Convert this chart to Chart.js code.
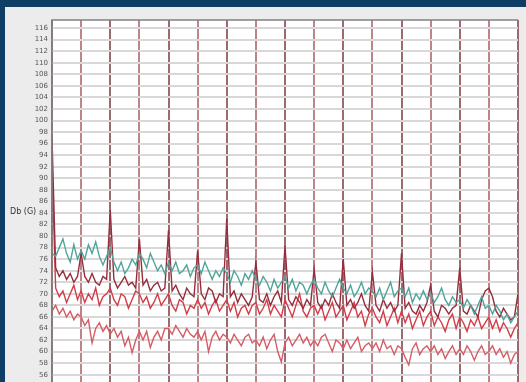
<!DOCTYPE html>
<html>
<head>
  <title>Db (G)</title>
  <script src="https://cdn.jsdelivr.net/npm/chart.js@4.4.0/dist/chart.umd.min.js"></script>
  <style>
    body { margin: 0; background: #0e3d66; overflow: hidden; width: 526px; height: 382px; }
    #panel { position: absolute; left: 5px; top: 7px; width: 521px; height: 380px; background: #ececec; }
    #chart { position: absolute; left: 0; top: 0; }
    #ylabel { position: absolute; left: 10px; top: 207px; font: 8px "DejaVu Sans", sans-serif; color: #333; }
  </style>
</head>
<body>
  <div id="panel"></div>
  <canvas id="chart" width="526" height="406"></canvas>
  <div id="ylabel">Db (G)</div>

  <script>
    // y tick labels
    var yTicks = [56, 58, 60, 62, 64, 66, 68, 70, 72, 74, 76, 78, 80, 82, 84, 86, 88, 90,
                  92, 94, 96, 98, 100, 102, 104, 106, 108, 110, 112, 114, 116];

    // samples: 8 per vertical division, 16 divisions
    var teal = [77,
      76.5, 78, 79.5, 77, 75.5, 78.5, 76, 77.5,
      76, 78.5, 77, 79, 76.5, 75, 76.5, 78,
      75.5, 74, 75.5, 73.5, 74.5, 76, 75, 77,
      76, 74.5, 77, 75.5, 74, 75, 73.5, 75.5,
      74, 75.5, 73.5, 74, 75, 73, 74.5, 75,
      73.5, 75.5, 74, 72.5, 74, 73, 74.5, 73.5,
      72, 74, 73, 71.5, 73.5, 72.5, 74, 72.5,
      71.5, 73, 72, 70.5, 72.5, 71, 72, 73,
      71, 72.5, 70.5, 72, 71.5, 70, 71.5, 72.5,
      71, 70, 72, 70.5, 69.5, 71, 72.5, 71,
      70, 71.5, 69.5, 70.5, 72, 70, 71, 70.5,
      69.5, 71, 69, 70.5, 72, 69.5, 70.5, 71,
      69.5, 71, 68.5, 70, 69, 70.5, 69, 70,
      68.5, 69.5, 71, 69, 68, 69.5, 68.5, 69,
      67.5, 69, 68, 66.5, 68, 69.5, 67.5, 68,
      66.5, 68, 67, 65.5, 66.5, 65, 66, 67];

    var maroon = [97,
      74.5, 73, 74, 72.5, 73.5, 72, 73, 77,
      73, 72, 73.5, 72, 71.5, 73, 72.5, 84.5,
      72.5, 71, 72, 73, 71.5, 72, 71, 79.5,
      71.5, 72.5, 70.5, 71.5, 72, 70.5, 71, 81,
      70.5, 71.5, 70, 69, 71, 70, 69.5, 77.5,
      70, 69, 71, 70.5, 68.5, 70, 69.5, 83,
      69.5, 70.5, 68.5, 70, 69, 68, 69.5, 75.5,
      69, 68.5, 70, 68, 69.5, 70.5, 68.5, 78.3,
      69, 68, 69.5, 68.5, 67.5, 69, 68, 74.3,
      68.5, 67.5, 69, 68, 70, 68.5, 67.5, 76,
      68, 69, 67.5, 68.5, 70, 68, 67, 73.8,
      68, 67, 69, 67.5, 68.5, 67, 68, 77,
      67.5, 68.5, 67, 66.5, 68, 67, 68.5, 71.5,
      67, 66, 68, 67.5, 66.5, 67.5, 68, 74.5,
      67, 66.5, 68, 67, 66, 69, 70.5, 71,
      69.5, 67, 66, 67.5, 66.5, 65.5, 66, 70];

    var red = [92,
      71, 69.5, 70.5, 68.5, 70, 71.5, 69, 70.5,
      68.5, 70, 69, 71, 68, 69.5, 70, 71,
      69, 68, 70, 69.5, 67.5, 69, 70.5, 70,
      68.5, 69.5, 67.5, 68.5, 70, 68, 69, 70,
      68, 67, 69, 68.5, 66.5, 68, 67.5, 69,
      67.5, 68.5, 66.5, 68, 69, 67, 68, 69,
      67, 68.5, 66, 67.5, 68, 66.5, 68, 68.5,
      66.5, 67.5, 69, 66.5, 68, 67, 66, 69,
      67.5, 66, 68, 70, 67, 66, 67.5, 68,
      66.5, 68, 65.5, 67, 68.5, 66, 67, 68,
      65.5, 67, 68.5, 66, 67, 64.5, 66.5, 67.5,
      66, 65, 67, 64.5, 66, 67.5, 65, 67,
      65, 66.5, 64, 65.5, 67, 64.5, 66, 67,
      64.5, 66, 65, 63.5, 65.5, 66.5, 64, 66,
      65, 63.5, 65.5, 64.5, 66, 64, 65, 66,
      64, 65.5, 63.5, 65, 64, 62.5, 64, 65];

    var pink = [67,
      68, 66.5, 67.5, 66, 67, 65.5, 66.5, 66,
      64.5, 65.5, 61.5, 64, 65, 63.5, 64.5, 63,
      64, 62.5, 63.5, 61, 62.5, 59.8, 62, 63.5,
      62, 63.5, 60.7, 62.5, 63.5, 62, 64, 64,
      63, 64.5, 63.5, 62.5, 64, 63, 62.5, 63.5,
      62, 63.5, 60, 62.5, 63.5, 62, 63, 62.5,
      61.5, 63, 62, 61, 62.5, 63, 61.5, 62,
      61, 62.5, 60.5, 62, 63, 60, 58.2, 61.5,
      62.5, 61, 62, 63, 61.5, 62.5, 61, 62,
      61, 62.5, 63, 61.5, 60, 62, 61.5, 60.5,
      62, 60.5, 61.5, 62.5, 60, 61, 61.5, 60.5,
      61.5, 60, 62, 60.5, 61, 59.5, 61, 60.5,
      59, 57.7, 60.5, 61.5, 59.5, 60.5, 61, 60,
      61, 59.5, 60.5, 58.8, 60, 61, 59.5, 60.5,
      59.5, 61, 60, 58.5, 60, 61, 59.5, 60,
      61, 59.5, 60.5, 59, 60, 58, 59.5, 60];

    function toPoints(arr) {
      return arr.map(function (v, i) { return { x: i / 8, y: v }; });
    }

    function line(label, arr, color) {
      return {
        label: label,
        data: toPoints(arr),
        borderColor: color,
        borderWidth: 1.4,
        pointRadius: 0,
        tension: 0,
        fill: false
      };
    }

    var plotBg = {
      id: 'plotBg',
      beforeDraw: function (chart) {
        var a = chart.chartArea, c = chart.ctx;
        c.save();
        c.fillStyle = '#ffffff';
        c.fillRect(a.left, a.top, a.right - a.left, a.bottom - a.top);
        c.restore();
      },
      afterDraw: function (chart) {
        var a = chart.chartArea, c = chart.ctx;
        c.save();
        c.strokeStyle = '#808080';
        c.lineWidth = 1.5;
        c.beginPath();
        c.moveTo(a.left, a.bottom);
        c.lineTo(a.left, a.top);
        c.lineTo(a.right, a.top);
        c.stroke();
        c.restore();
      }
    };

    var ctx = document.getElementById('chart').getContext('2d');

    new Chart(ctx, {
      type: 'line',
      data: {
        datasets: [
          line('teal', teal, 'rgb(80,165,155)'),
          line('maroon', maroon, 'rgb(150,45,60)'),
          line('red', red, 'rgb(212,60,72)'),
          line('pink', pink, 'rgb(214,92,102)')
        ]
      },
      options: {
        responsive: false,
        animation: false,
        layout: { padding: { top: 20, right: 8, left: 0, bottom: 2 } },
        plugins: { legend: { display: false }, tooltip: { enabled: false } },
        scales: {
          x: {
            type: 'linear',
            min: 0,
            max: 16,
            ticks: { display: false, stepSize: 1 },
            border: { display: false },
            grid: {
              drawTicks: false,
              lineWidth: 2,
              color: function (c) {
                return c.index % 2 ? 'rgba(178,112,118,0.85)' : 'rgba(140,80,86,0.85)';
              }
            },
            afterFit: function (s) { s.height = 0; }
          },
          y: {
            min: 52,
            max: 117.4,
            afterBuildTicks: function (s) {
              s.ticks = yTicks.map(function (v) { return { value: v }; });
            },
            afterFit: function (s) { s.width = 52; },
            border: { display: false },
            grid: { drawTicks: false, color: '#d8d8d8', lineWidth: 2 },
            ticks: {
              padding: 4,
              color: '#555',
              font: { family: 'DejaVu Sans', size: 7 }
            }
          }
        }
      },
      plugins: [plotBg]
    });
  </script>
</body>
</html>
